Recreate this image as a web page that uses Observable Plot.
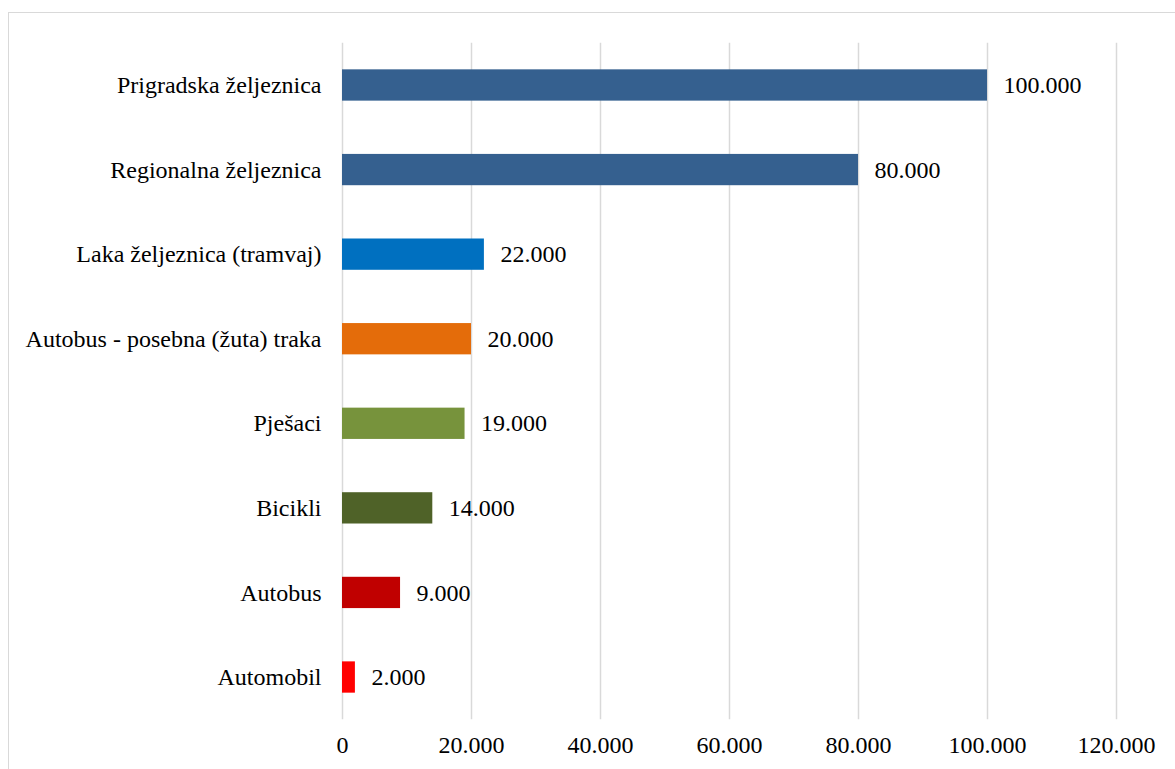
<!DOCTYPE html>
<html>
<head>
<meta charset="utf-8">
<script src="https://cdn.jsdelivr.net/npm/d3@7"></script>
<script src="https://cdn.jsdelivr.net/npm/@observablehq/plot@0.6"></script>
<style>
  html, body { margin: 0; padding: 0; background: #fff; overflow: hidden; }
  #wrap { position: relative; width: 1175px; height: 769px; }
  #border { position: absolute; left: 8px; top: 12px; width: 1180px; height: 780px; border: 1px solid #d9d9d9; box-sizing: border-box; }
  #chart { position: absolute; left: 0; top: 0; }
</style>
</head>
<body>
<div id="wrap"><div id="border"></div><div id="chart"></div></div>
<script>
const categories = [
  "Prigradska željeznica",
  "Regionalna željeznica",
  "Laka željeznica (tramvaj)",
  "Autobus - posebna (žuta) traka",
  "Pješaci",
  "Bicikli",
  "Autobus",
  "Automobil"
];
const values = [100000, 80000, 22000, 20000, 19000, 14000, 9000, 2000];
const colors = ["#35608f", "#35608f", "#0070c0", "#e46c0a", "#77933c", "#4f6228", "#c00000", "#ff0000"];
const xTicks = [0, 20000, 40000, 60000, 80000, 100000, 120000];

const data = categories.map((c, i) => ({cat: c, value: values[i], color: colors[i]}));
const fmt = d3.formatLocale({decimal: ",", thousands: ".", grouping: [3], currency: ["", ""]}).format(",");

const chart = Plot.plot({
  width: 1175,
  height: 769,
  marginLeft: 342,
  marginRight: 59,
  marginTop: 42.7,
  marginBottom: 49.7,
  style: {fontFamily: "'Liberation Serif', 'Times New Roman', serif", fontSize: "24px", color: "#000", background: "transparent"},
  x: {domain: [0, 120000], ticks: xTicks, tickFormat: fmt, tickSize: 0, tickPadding: 16, label: null},
  y: {domain: categories, paddingInner: 0.63, paddingOuter: 0.315, round: false, tickSize: 0, tickPadding: 21, label: null},
  marks: [
    Plot.gridX(xTicks, {stroke: "#d9d9d9", strokeOpacity: 1, strokeWidth: 1.5}),
    Plot.barX(data, {x: "value", y: "cat", fill: "color"}),
    Plot.text(data, {x: "value", y: "cat", text: d => fmt(d.value), textAnchor: "start", dx: 16, fill: "#000", fontSize: 24}),
    Plot.axisX({ticks: xTicks, tickFormat: fmt, tickSize: 0, tickPadding: 16, fontSize: 24}),
    Plot.axisY({tickSize: 0, tickPadding: 21, fontSize: 24})
  ]
});
document.getElementById("chart").appendChild(chart);
</script>
</body>
</html>
